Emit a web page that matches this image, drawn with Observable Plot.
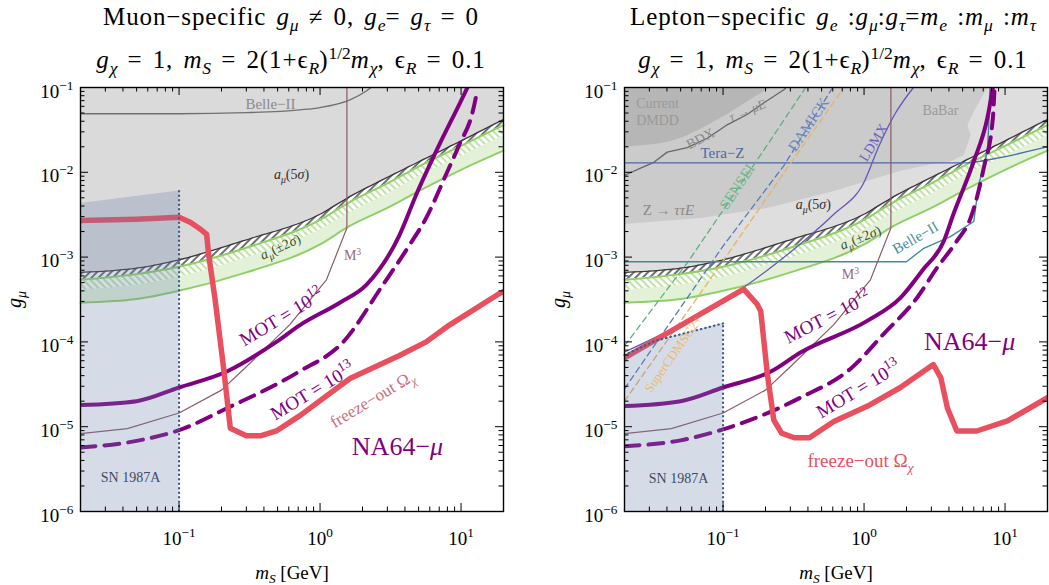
<!DOCTYPE html>
<html><head><meta charset="utf-8">
<script src="https://cdn.jsdelivr.net/npm/d3@7"></script>
<script src="https://cdn.jsdelivr.net/npm/@observablehq/plot@0.6"></script>
<style>
body{margin:0;background:#fff;}
#wrap{position:relative;width:1049px;height:585px;overflow:hidden;font-family:"Liberation Serif",serif;}
.title{position:absolute;text-align:center;font-size:25px;letter-spacing:0.9px;word-spacing:3px;color:#000;white-space:nowrap;line-height:26px;}
.title sub,.title sup{font-size:70%;line-height:0;letter-spacing:0;}
#p1{position:absolute;left:0;top:0;}
#p2{position:absolute;left:544px;top:0;}
</style></head><body>
<div id="wrap">
<div id="p1"></div><div id="p2"></div>
<div class="title" style="left:0;width:582px;top:4px">Muon−specific <i>g</i><sub><i>μ</i></sub> ≠ 0, <i>g</i><sub><i>e</i></sub>= <i>g</i><sub><i>τ</i></sub> = 0</div>
<div class="title" style="left:0;width:582px;top:47px"><i>g</i><sub><i>χ</i></sub> = 1, <i>m</i><sub><i>S</i></sub> = 2(1+ϵ<sub><i>R</i></sub>)<sup>1/2</sup><i>m</i><sub><i>χ</i></sub>, ϵ<sub><i>R</i></sub> = 0.1</div>
<div class="title" style="left:617px;width:432px;top:4px">Lepton−specific <i>g</i><sub><i>e</i></sub> :<i>g</i><sub><i>μ</i></sub>:<i>g</i><sub><i>τ</i></sub>=<i>m</i><sub><i>e</i></sub> :<i>m</i><sub><i>μ</i></sub> :<i>m</i><sub><i>τ</i></sub></div>
<div class="title" style="left:617px;width:432px;top:47px"><i>g</i><sub><i>χ</i></sub> = 1, <i>m</i><sub><i>S</i></sub> = 2(1+ϵ<sub><i>R</i></sub>)<sup>1/2</sup><i>m</i><sub><i>χ</i></sub>, ϵ<sub><i>R</i></sub> = 0.1</div>
</div>
<svg width="0" height="0" style="position:absolute;left:0;top:0"><defs>
<pattern id="hatchK" patternUnits="userSpaceOnUse" width="5" height="5" patternTransform="rotate(45)"><rect width="5" height="5" fill="#fff"/><line x1="1" y1="0" x2="1" y2="5" stroke="#222" stroke-width="1.3"/></pattern>
<pattern id="hatchG" patternUnits="userSpaceOnUse" width="5" height="5" patternTransform="rotate(-45)"><rect width="5" height="5" fill="#fdfefc"/><line x1="1" y1="0" x2="1" y2="5" stroke="#b6df9a" stroke-width="1.7"/></pattern>
</defs></svg>
<script>
// ---------- data (m_S in GeV, g_mu) ----------
const mGrid        = [0.02, 0.05, 0.1, 0.3, 1, 1.6, 3, 5, 10, 20];
const amu5Sigma    = [6.6e-4, 7.4e-4, 9.3e-4, 1.6e-3, 3.2e-3, 5.1e-3, 8.7e-3, 0.0133, 0.0235, 0.042];
const amu2SigTop   = [5.4e-4, 6.3e-4, 7.7e-4, 1.29e-3, 2.75e-3, 4.4e-3, 7.4e-3, 0.0117, 0.0205, 0.036];
const amu2SigMid   = [4.1e-4, 4.7e-4, 5.8e-4, 9.8e-4, 2.1e-3, 3.3e-3, 5.5e-3, 8.9e-3, 0.0155, 0.027];
const amu2SigBot   = [2.9e-4, 3.2e-4, 4.0e-4, 6.6e-4, 1.41e-3, 2.3e-3, 3.8e-3, 6.0e-3, 0.0107, 0.018];

const mot12Muon = [[0.02,1.8e-5],[0.05,2.0e-5],[0.1,2.9e-5],[0.22,4.5e-5],[0.49,1.0e-4],[0.72,1.58e-4],[1.38,2.9e-4],[2.13,4.7e-4],[3.66,1.82e-3],[4.8,5.4e-3],[7.0,0.021],[9.7,0.063],[11.1,0.1]];
const mot13Muon = [[0.02,5.7e-6],[0.05,6.8e-6],[0.1,9.1e-6],[0.22,1.66e-5],[0.7,4.4e-5],[1.46,1.0e-4],[2.79,4.7e-4],[4.3,1.38e-3],[5.66,2.9e-3],[7.8,9.3e-3],[9.7,0.021],[12.1,0.052],[13.0,0.09]];
const freezeMuon = [[0.02,2.7e-3],[0.05,2.8e-3],[0.1,2.95e-3],[0.12,2.57e-3],[0.142,2.13e-3],[0.157,1.85e-3],[0.162,1.08e-3],[0.18,3.2e-4],[0.207,4.9e-5],[0.231,9.6e-6],[0.30,7.8e-6],[0.377,7.8e-6],[0.49,8.9e-6],[0.72,1.35e-5],[1.63,3.7e-5],[3.66,6.9e-5],[5.66,1.0e-4],[8.26,1.58e-4],[18.6,3.7e-4],[20,3.9e-4]];
const belle2Muon = [[0.02,0.049],[0.1,0.049],[0.3,0.0505],[0.72,0.0545],[1.0,0.058],[1.63,0.0716],[2.13,0.091],[2.3,0.1]];
const m3Line = [[0.02,8.3e-6],[0.043,9.5e-6],[0.1,1.45e-5],[0.2,2.7e-5],[0.3,5.1e-5],[0.61,1.6e-4],[1.11,5.4e-4],[1.55,2.2e-3],[1.55,0.1]];
const sn1987aMuon = [[0.02,4.3e-3],[0.1,6.0e-3]];

const mot12Lep = [[0.02,1.75e-5],[0.05,2.0e-5],[0.1,2.9e-5],[0.22,4.5e-5],[0.354,7.5e-5],[1.06,1.78e-4],[1.81,3.3e-4],[2.6,7.0e-4],[3.68,1.55e-3],[4.3,3.2e-3],[6.0,0.0135],[7.5,0.044],[8.2,0.1]];
const mot13Lep = [[0.02,5.9e-6],[0.05,6.9e-6],[0.1,9.3e-6],[0.354,2.2e-5],[0.81,4.9e-5],[1.37,1.23e-4],[2.37,3.3e-4],[3.28,7.4e-4],[4.55,1.55e-3],[5.7,2.9e-3],[7.06,0.0112],[8.2,0.044],[8.4,0.09]];
const freezeLep = [[0.02,6.5e-5],[0.14,4.2e-4],[0.174,2.8e-4],[0.185,2.31e-4],[0.206,4.2e-5],[0.229,1.2e-5],[0.26,8.4e-6],[0.32,7.4e-6],[0.41,7.4e-6],[0.61,1.15e-5],[1.06,1.75e-5],[1.81,2.9e-5],[3.1,5.4e-5],[3.5,3.8e-5],[3.9,1.66e-5],[4.55,8.9e-6],[6.3,8.9e-6],[10.4,1.17e-5],[20,2.2e-5]];
const belle2Lep = [[0.02,8.8e-4],[2.0,8.8e-4],[2.65,1.27e-3],[4.1,1.74e-3],[6.0,2.63e-3],[6.5,7.1e-3],[7.5,0.0177],[7.7,0.044],[7.8,0.1]];
const teraZ = [[0.02,0.0129],[5.4,0.0129],[6.7,0.0135],[10.5,0.0155],[14.3,0.0175],[20,0.020]];
const bdx = [[0.0203,9.3e-3],[0.026,0.0112],[0.0323,0.0131],[0.0402,0.0173],[0.0557,0.0195],[0.0773,0.0252],[0.107,0.0363],[0.148,0.048],[0.195,0.066],[0.27,0.094],[0.28,0.1]];
const sensei = [[0.02,9.0e-5],[0.057,9.0e-4],[0.206,0.021],[0.385,0.1]];
const damicK = [[0.02,2.8e-5],[0.1,1.35e-3],[0.27,0.012],[0.6,0.1]];
const superCDMS = [[0.02,2.0e-5],[0.1,9.0e-4],[0.3,0.0126],[0.72,0.1]];
const ldmx = [[0.02,7.6e-5],[0.14,4.4e-4],[0.374,1.55e-3],[0.61,3.2e-3],[1.01,7.9e-3],[1.26,0.0195],[1.66,0.049],[2.24,0.1]];
const dmddDark = [[0.02,0.020],[0.042,0.023],[0.096,0.043],[0.165,0.075],[0.22,0.1]];
const zttBabar = [[0.02,2.45e-3],[0.069,2.9e-3],[0.206,3.8e-3],[0.61,6.0e-3],[1.81,0.0104],[3.1,0.0126],[4.1,0.0135],[5.1,0.016],[5.7,0.0277],[5.4,0.036],[6.0,0.052],[7.5,0.1],[0.02,0.1]];
const sn1987aLep = [[0.02,7.0e-5],[0.033,1.03e-4],[0.1,1.65e-4]];

const xMajor = [0.1, 1, 10];
const xMajorLabels = ["10^{−1}", "10^{0}", "10^{1}"];
const yMajor = [1e-6, 1e-5, 1e-4, 1e-3, 1e-2, 1e-1];
const yMajorLabels = ["10^{−6}", "10^{−5}", "10^{−4}", "10^{−3}", "10^{−2}", "10^{−1}"];

// ---------- helpers ----------
const W = 423, H = 424;
const PURPLE = "#800080", RED = "#e8505f";
const band = mGrid.map((m, i) => ({m, a5: amu5Sigma[i], t: amu2SigTop[i], mid: amu2SigMid[i], b: amu2SigBot[i]}));
const X = d => d[0], Y = d => d[1];

function lab(m, g, s, o = {}) {
  return Plot.text([[m, g]], {x: X, y: Y, text: () => s, fontSize: o.size ?? 15, fill: o.fill ?? "#222", rotate: o.rot ?? 0});
}

function axesAndFrame() {
  const xm = [], ym = [];
  for (const d of [0.01, 0.1, 1, 10]) for (let k = 2; k <= 9; k++) { const v = d * k; if (v > 0.0201 && v < 19.9) xm.push(v); }
  for (const d of [1e-6, 1e-5, 1e-4, 1e-3, 1e-2]) for (let k = 2; k <= 9; k++) ym.push(d * k);
  const s = {stroke: "#000", strokeWidth: 1};
  return [
    Plot.tickX(xMajor, {x: d => d, insetTop: H - 8, ...s}),
    Plot.tickX(xMajor, {x: d => d, insetBottom: H - 8, ...s}),
    Plot.tickX(xm, {x: d => d, insetTop: H - 4.5, ...s}),
    Plot.tickX(xm, {x: d => d, insetBottom: H - 4.5, ...s}),
    Plot.tickY(yMajor, {y: d => d, insetRight: W - 8, ...s}),
    Plot.tickY(yMajor, {y: d => d, insetLeft: W - 8, ...s}),
    Plot.tickY(ym, {y: d => d, insetRight: W - 4.5, ...s}),
    Plot.tickY(ym, {y: d => d, insetLeft: W - 4.5, ...s}),
    Plot.frame({stroke: "#000", strokeWidth: 1.4}),
    Plot.text(yMajor, {y: d => d, frameAnchor: "left", textAnchor: "end", lineAnchor: "middle", text: (d, i) => yMajorLabels[i], dx: -7, dy: 4, fontSize: 19, fill: "#000"}),
    Plot.text(xMajor, {x: d => d, frameAnchor: "bottom", textAnchor: "middle", lineAnchor: "middle", text: (d, i) => xMajorLabels[i], dy: 27, fontSize: 19, fill: "#000"}),
    Plot.text([0], {frameAnchor: "bottom", textAnchor: "middle", lineAnchor: "middle", text: () => "*m*_{*S*} [GeV]", dy: 61, fontSize: 19, fill: "#000"}),
    Plot.text([0], {frameAnchor: "left", textAnchor: "middle", lineAnchor: "middle", text: () => "*g*_{*μ*}", rotate: -90, dx: -66, fontSize: 20, fill: "#000"})
  ];
}

function bandMarks() {
  return [
    Plot.areaY(band, {x: "m", y1: "t", y2: "a5", fill: "url(#hatchK)", curve: "monotone-x"}),
    Plot.areaY(band, {x: "m", y1: "b", y2: "t", fill: "#e3f1d9", curve: "monotone-x"}),
    Plot.areaY(band, {x: "m", y1: "mid", y2: "t", fill: "url(#hatchG)", curve: "monotone-x"}),
    Plot.line(band, {x: "m", y: "t", stroke: "#8fd066", strokeWidth: 2, curve: "monotone-x"}),
    Plot.line(band, {x: "m", y: "b", stroke: "#8fd066", strokeWidth: 2, curve: "monotone-x"}),
    Plot.line(band, {x: "m", y: "a5", stroke: "#3a3a3a", strokeWidth: 1.3, curve: "monotone-x"})
  ];
}

function na64Marks(mot12, mot13, freeze) {
  return [
    Plot.line(mot12, {x: X, y: Y, stroke: PURPLE, strokeWidth: 4, curve: "monotone-x", clip: true}),
    Plot.line(mot13, {x: X, y: Y, stroke: PURPLE, strokeWidth: 4, strokeDasharray: "15,9", curve: "monotone-x", clip: true}),
    Plot.line(freeze, {x: X, y: Y, stroke: RED, strokeWidth: 5.5, strokeLinejoin: "round", clip: true})
  ];
}

const dots = {stroke: "#3d5a8a", strokeWidth: 2.2, strokeDasharray: "0.5,4", strokeLinecap: "round"};

const common = {
  height: 585, marginTop: 87, marginBottom: 74, marginLeft: 80,
  x: {type: "log", domain: [0.02, 20], axis: null},
  y: {type: "log", domain: [1e-6, 0.1], axis: null},
  style: {fontFamily: "'Liberation Serif', serif", background: "transparent", overflow: "visible"}
};

const muon = Plot.plot({
  ...common, width: 524, marginRight: 21,
  marks: [
    Plot.areaY(band, {x: "m", y1: "a5", y2: () => 0.1, fill: "#dadada", curve: "monotone-x"}),
    ...bandMarks(),
    Plot.line(belle2Muon, {x: X, y: Y, stroke: "#707070", strokeWidth: 1.3, curve: "monotone-x", clip: true}),
    Plot.line(m3Line, {x: X, y: Y, stroke: "#8c5a6c", strokeWidth: 1.2, clip: true}),
    ...na64Marks(mot12Muon, mot13Muon, freezeMuon),
    Plot.areaY(sn1987aMuon, {x: X, y1: () => 1e-6, y2: Y, fill: "#6982ad", fillOpacity: 0.28}),
    Plot.ruleX([sn1987aMuon[1]], {x: X, y1: () => 1e-6, y2: Y, ...dots}),
    lab(0.445, 0.063, "Belle−II", {fill: "#8a8a8a", size: 15}),
    lab(0.627, 9.4e-3, "*a*_{*μ*}(5*σ*)", {fill: "#333", size: 14}),
    lab(0.523, 1.32e-3, "*a*_{*μ*}(±2*σ*)", {fill: "#3b4f2e", size: 14, rot: -25}),
    lab(1.70, 1.03e-3, "M^{3}", {fill: "#9a6878", size: 14}),
    lab(0.533, 1.96e-4, "MOT = 10^{12}", {fill: PURPLE, size: 19, rot: -31}),
    lab(0.883, 2.62e-5, "MOT = 10^{13}", {fill: PURPLE, size: 19, rot: -31}),
    lab(2.35, 2.11e-5, "freeze−out Ω_{*χ*}", {fill: "#c8707a", size: 17, rot: -31}),
    lab(3.54, 5.86e-6, "NA64−*μ*", {fill: PURPLE, size: 26}),
    lab(0.0453, 2.52e-6, "SN 1987A", {fill: "#3d4a63", size: 14}),
    ...axesAndFrame()
  ]
});

const lepton = Plot.plot({
  ...common, width: 505, marginRight: 2,
  marks: [
    Plot.areaY(band, {x: "m", y1: "a5", y2: () => 0.1, fill: "#dedede", curve: "monotone-x"}),
    Plot.line(zttBabar, {x: X, y: Y, fill: "#cbcbcb", stroke: "none"}),
    Plot.areaY(dmddDark, {x: X, y1: Y, y2: () => 0.1, fill: "#b6b6b6", curve: "monotone-x"}),
    ...bandMarks(),
    Plot.line(bdx, {x: X, y: Y, stroke: "#666", strokeWidth: 1.3, clip: true}),
    Plot.line(teraZ, {x: X, y: Y, stroke: "#4a6aa8", strokeWidth: 1.3, clip: true}),
    Plot.line(sensei, {x: X, y: Y, stroke: "#5fb07e", strokeWidth: 1.3, strokeDasharray: "6,4", clip: true}),
    Plot.line(damicK, {x: X, y: Y, stroke: "#5a7ab8", strokeWidth: 1.3, strokeDasharray: "6,4", clip: true}),
    Plot.line(superCDMS, {x: X, y: Y, stroke: "#eab25e", strokeWidth: 1.3, strokeDasharray: "6,4", clip: true}),
    Plot.line(ldmx, {x: X, y: Y, stroke: "#6656b8", strokeWidth: 1.3, curve: "monotone-x", clip: true}),
    Plot.line(belle2Lep, {x: X, y: Y, stroke: "#3a8c9c", strokeWidth: 1.4, clip: true}),
    Plot.line(m3Line, {x: X, y: Y, stroke: "#8c5a6c", strokeWidth: 1.2, clip: true}),
    ...na64Marks(mot12Lep, mot13Lep, freezeLep),
    Plot.areaY(sn1987aLep, {x: X, y1: () => 1e-6, y2: Y, fill: "#6982ad", fillOpacity: 0.28}),
    Plot.line(sn1987aLep, {x: X, y: Y, ...dots}),
    Plot.ruleX([sn1987aLep[2]], {x: X, y1: () => 1e-6, y2: Y, ...dots}),
    lab(0.0343, 0.0647, "Current", {fill: "#9a9a9a", size: 14}),
    lab(0.0343, 0.0407, "DMDD", {fill: "#9a9a9a", size: 14}),
    lab(0.149, 0.0535, "*τ* → *μE*", {fill: "#8a8a8a", size: 13, rot: -22}),
    lab(0.0692, 0.0249, "BDX", {fill: "#8a8a8a", size: 14, rot: -28}),
    lab(0.099, 0.0166, "Tera−Z", {fill: "#4a6aa8", size: 15}),
    lab(0.041, 3.61e-3, "Z → *ττE*", {fill: "#8a8a8a", size: 15}),
    lab(0.126, 6.76e-3, "SENSEI", {fill: "#6ab888", size: 15, rot: -56}),
    lab(0.404, 0.0365, "DAMICK", {fill: "#6a88c0", size: 15, rot: -56}),
    lab(1.167, 0.0224, "LDMX", {fill: "#6a5fc0", size: 14, rot: -58}),
    lab(3.48, 0.0535, "BaBar", {fill: "#9a9a9a", size: 14}),
    lab(0.437, 4.14e-3, "*a*_{*μ*}(5*σ*)", {fill: "#333", size: 14}),
    lab(0.944, 1.69e-3, "*a*_{*μ*}(±2*σ*)", {fill: "#3b4f2e", size: 14, rot: -22}),
    lab(2.32, 1.69e-3, "Belle−II", {fill: "#3d8fa0", size: 15, rot: -30}),
    lab(0.80, 6.16e-4, "M^{3}", {fill: "#9a6878", size: 14}),
    lab(0.0446, 7.2e-5, "SuperCDMSG2+", {fill: "#f0b868", size: 13, rot: -55}),
    lab(0.551, 1.96e-4, "MOT = 10^{12}", {fill: PURPLE, size: 19, rot: -27}),
    lab(0.914, 2.77e-5, "MOT = 10^{13}", {fill: PURPLE, size: 19, rot: -31}),
    lab(0.944, 3.9e-6, "freeze−out Ω_{*χ*}", {fill: RED, size: 19}),
    lab(5.6, 9.95e-5, "NA64−*μ*", {fill: PURPLE, size: 26}),
    lab(0.0483, 2.45e-6, "SN 1987A", {fill: "#3d4a63", size: 14}),
    ...axesAndFrame()
  ]
});

document.getElementById("p1").appendChild(muon);
document.getElementById("p2").appendChild(lepton);

// ---------- rich text: *italic*, _{sub}, ^{sup} ----------
function esc(s) { return s.replace(/&/g, "&amp;").replace(/</g, "&lt;"); }
function richHTML(s, fs) {
  const segs = []; let i = 0, ital = false, buf = "";
  const push = (t, shift, small, it) => { if (t) segs.push({t, shift, small, it}); };
  while (i < s.length) {
    const c = s[i];
    if (c === "*") { push(buf, 0, false, ital); buf = ""; ital = !ital; i++; continue; }
    if ((c === "_" || c === "^") && s[i + 1] === "{") {
      push(buf, 0, false, ital); buf = "";
      const j = s.indexOf("}", i);
      s.slice(i + 2, j).split("*").forEach((p, k) => push(p, c === "_" ? 1 : -1, true, k % 2 === 1));
      i = j + 1; continue;
    }
    buf += c; i++;
  }
  push(buf, 0, false, ital);
  let cur = 0, html = "";
  for (const sg of segs) {
    const target = sg.shift === 1 ? 0.25 * fs : sg.shift === -1 ? -0.42 * fs : 0;
    const dy = target - cur; cur = target;
    html += `<tspan dy="${dy.toFixed(2)}"${sg.small ? ` font-size="${(0.7 * fs).toFixed(1)}"` : ""}${sg.it ? ` font-style="italic"` : ""}>${esc(sg.t)}</tspan>`;
  }
  return html;
}
document.querySelectorAll("#wrap svg text").forEach(t => {
  const s = t.textContent;
  if (!/[_^]\{|\*/.test(s)) return;
  const fs = parseFloat(getComputedStyle(t).fontSize) || 15;
  t.innerHTML = richHTML(s, fs);
});
</script>
</body></html>
